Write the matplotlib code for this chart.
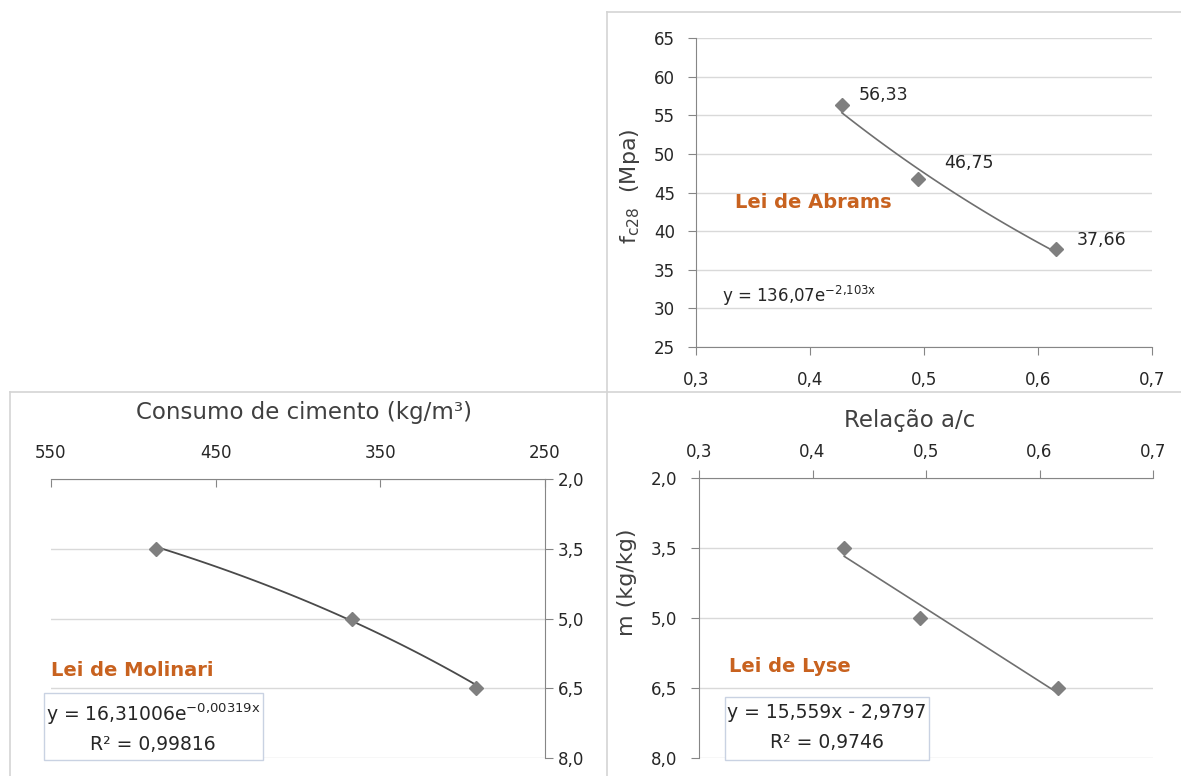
import matplotlib
matplotlib.use('Agg')
import matplotlib.pyplot as plt
import numpy as np
from matplotlib.ticker import FuncFormatter
from matplotlib.lines import Line2D
from matplotlib.patches import Rectangle

# ensaios: relação a/c, resistência aos 28 dias, traço m e consumo de cimento
ac = [0.428, 0.495, 0.616]
fc28 = [56.33, 46.75, 37.66]
m = [3.5, 5.0, 6.5]
consumo = [486, 367, 292]

# coeficientes das linhas de tendência
abrams_a, abrams_b = 136.07, -2.103
molinari_a, molinari_b = 16.31006, -0.00319
lyse_a, lyse_b = 15.559, -2.9797
r2_molinari = '0,99816'
r2_lyse = '0,9746'

plt.rcParams['font.family'] = ['DejaVu Sans']
plt.rcParams['mathtext.default'] = 'regular'

W, H = 1181, 776
fig = plt.figure(figsize=(W / 100, H / 100), dpi=100)

SPINE = '#868686'
GRID = '#d9d9d9'
MARK = '#7f7f7f'
TXT = '#262626'
TITLE = '#404040'
LARANJA = '#c8621f'


def px_box(x0, y0, x1, y1):
    return [x0 / W, 1 - y1 / H, (x1 - x0) / W, (y1 - y0) / H]


def px_text(x, y, s, **kw):
    return fig.text(x / W, 1 - y / H, s, **kw)


def virgula(fmt):
    return FuncFormatter(lambda v, p: format(v, fmt).replace('.', ','))


def estilo(ax, spines):
    for k, sp in ax.spines.items():
        sp.set_visible(k in spines)
        sp.set_color(SPINE)
    ax.grid(axis='y', color=GRID, lw=1)
    ax.set_axisbelow(True)
    ax.tick_params(colors=SPINE, labelcolor=TXT, labelsize=12, length=6)


def caixa(x0, y0, x1, y1):
    fig.patches.append(Rectangle((x0 / W, 1 - y1 / H), (x1 - x0) / W,
                                 (y1 - y0) / H, transform=fig.transFigure,
                                 facecolor='white', edgecolor='#c9d2e2', lw=1))


# --- Lei de Abrams ---
ax1 = fig.add_axes(px_box(696, 38, 1152, 347))
ax1.set_xlim(0.3, 0.7)
ax1.set_ylim(25, 65)
ax1.set_xticks(np.arange(0.3, 0.71, 0.1))
ax1.set_yticks(np.arange(25, 66, 5))
ax1.xaxis.set_major_formatter(virgula('.1f'))
estilo(ax1, ['left', 'bottom'])
ax1.tick_params(direction='out')
ax1.tick_params(axis='x', pad=11)
ax1.tick_params(axis='y', pad=9)
xs = np.linspace(ac[0], ac[-1], 60)
ax1.plot(xs, abrams_a * np.exp(abrams_b * xs), color='#6f6f6f', lw=1.2)
ax1.plot(ac, fc28, 'D', color=MARK, ms=7)
offsets = [(17, 10), (26, 16), (20, 9)]
for x, y, off in zip(ac, fc28, offsets):
    ax1.annotate(format(y, '.2f').replace('.', ','), (x, y), xytext=off,
                 textcoords='offset pixels', ha='left', va='center',
                 fontsize=12.5, color=TXT)

px_text(630, 186, r'f$_{c28}$  (Mpa)', rotation=90, ha='center', va='center',
        fontsize=16, color=TITLE)
px_text(735, 202, 'Lei de Abrams', ha='left', va='center', fontsize=14,
        fontweight='bold', color=LARANJA)
px_text(722, 296, r'y = 136,07e$^{-2{,}103x}$', ha='left', va='center',
        fontsize=12, color=TXT)

# --- Lei de Molinari ---
ax2 = fig.add_axes(px_box(51, 479, 545, 758))
ax2.set_xlim(550, 250)
ax2.set_ylim(8, 2)
ax2.set_xticks([550, 450, 350, 250])
ax2.set_yticks([2.0, 3.5, 5.0, 6.5, 8.0])
ax2.yaxis.set_major_formatter(virgula('.1f'))
ax2.xaxis.tick_top()
ax2.yaxis.tick_right()
estilo(ax2, ['top', 'right'])
ax2.tick_params(axis='x', direction='in', pad=12)
ax2.tick_params(axis='y', direction='out', pad=3)
xs = np.linspace(consumo[0], consumo[-1], 60)
ax2.plot(xs, molinari_a * np.exp(molinari_b * xs), color='#4a4a4a', lw=1.3)
ax2.plot(consumo, m, 'D', color=MARK, ms=7)

px_text(304, 413, 'Consumo de cimento (kg/m³)', ha='center', va='center',
        fontsize=16.5, color=TITLE)
px_text(51, 670, 'Lei de Molinari', ha='left', va='center', fontsize=14,
        fontweight='bold', color=LARANJA)
caixa(44, 693, 263, 760)
px_text(153, 714, r'y = 16,31006e$^{-0{,}00319x}$', ha='center', va='center',
        fontsize=13.5, color=TXT)
px_text(153, 744, 'R² = ' + r2_molinari, ha='center', va='center',
        fontsize=13.5, color=TXT)

# --- Lei de Lyse ---
ax3 = fig.add_axes(px_box(699, 478, 1153, 758))
ax3.set_xlim(0.3, 0.7)
ax3.set_ylim(8, 2)
ax3.set_xticks(np.arange(0.3, 0.71, 0.1))
ax3.set_yticks([2.0, 3.5, 5.0, 6.5, 8.0])
ax3.xaxis.set_major_formatter(virgula('.1f'))
ax3.yaxis.set_major_formatter(virgula('.1f'))
ax3.xaxis.tick_top()
estilo(ax3, ['top', 'left'])
ax3.tick_params(direction='out')
ax3.tick_params(axis='x', pad=6)
ax3.tick_params(axis='y', pad=10)
xs = np.linspace(ac[0], ac[-1], 10)
ax3.plot(xs, lyse_a * xs + lyse_b, color='#6f6f6f', lw=1.2)
ax3.plot(ac, m, 'D', color=MARK, ms=7)

px_text(910, 420, 'Relação a/c', ha='center', va='center', fontsize=16.5,
        color=TITLE)
px_text(627, 582, 'm (kg/kg)', rotation=90, ha='center', va='center',
        fontsize=16, color=TITLE)
px_text(729, 667, 'Lei de Lyse', ha='left', va='center', fontsize=14,
        fontweight='bold', color=LARANJA)
caixa(725, 697, 929, 760)
px_text(827, 713, 'y = 15,559x - 2,9797', ha='center', va='center',
        fontsize=13.5, color=TXT)
px_text(827, 743, 'R² = ' + r2_lyse, ha='center', va='center',
        fontsize=13.5, color=TXT)

# molduras dos três gráficos
for (x0, y0), (x1, y1) in [((607, 12), (1181, 12)), ((607, 12), (607, 776)),
                           ((10, 392), (1181, 392)), ((10, 392), (10, 776))]:
    fig.add_artist(Line2D([x0 / W, x1 / W], [1 - y0 / H, 1 - y1 / H],
                          transform=fig.transFigure, color='#d4d4d4', lw=1.2))

fig.savefig('out.png', dpi=100)
